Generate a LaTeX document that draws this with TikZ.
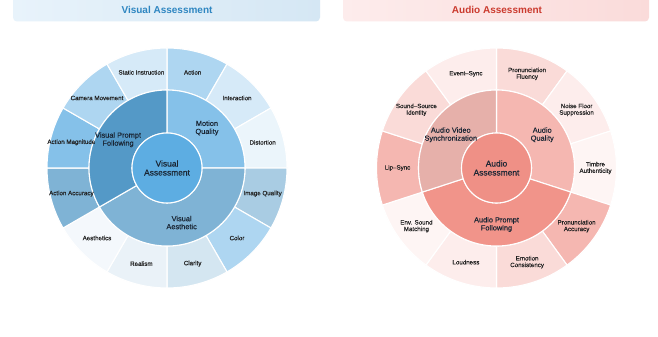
\documentclass[tikz,border=0pt]{standalone}
\usepackage{fontspec}
\setmainfont{Liberation Sans}
\newfontfamily\medfont[FakeBold=0.35,Ligatures=TeX]{Liberation Sans}
\usetikzlibrary{calc}
% visual colours
\definecolor{vCenter}{HTML}{5DADE2}
\definecolor{vMotion}{HTML}{85C1E9}
\definecolor{vAesth}{HTML}{7FB3D5}
\definecolor{vPrompt}{HTML}{5499C7}
\definecolor{vAction}{HTML}{AED6F1}
\definecolor{vInter}{HTML}{D6EAF8}
\definecolor{vDist}{HTML}{EBF5FB}
\definecolor{vImgQ}{HTML}{A9CCE3}
\definecolor{vColor}{HTML}{AED6F1}
\definecolor{vClar}{HTML}{D4E6F1}
\definecolor{vReal}{HTML}{EAF2F8}
\definecolor{vAes}{HTML}{F4F8FC}
\definecolor{vAcc}{HTML}{7FB3D5}
\definecolor{vMag}{HTML}{85C1E9}
\definecolor{vCam}{HTML}{AED6F1}
\definecolor{vStat}{HTML}{D6EAF8}
% audio colours
\definecolor{aCenter}{HTML}{EF9086}
\definecolor{aQual}{HTML}{F5B7B1}
\definecolor{aPrompt}{HTML}{F1948A}
\definecolor{aSync}{HTML}{E6B0AA}
\definecolor{aL1}{HTML}{F5B7B1}
\definecolor{aL2}{HTML}{FADBD8}
\definecolor{aL3}{HTML}{FDEDEC}
\definecolor{aL4}{HTML}{FEF5F4}
% text / banners
\definecolor{labtxt}{HTML}{222222}
\definecolor{midtxt}{HTML}{1A2634}
\definecolor{vTitle}{HTML}{2E86C1}
\definecolor{aTitle}{HTML}{CB3A2E}
\definecolor{vBanL}{HTML}{E8F3FB}
\definecolor{vBanR}{HTML}{D5E7F4}
\definecolor{aBanL}{HTML}{FDECEC}
\definecolor{aBanR}{HTML}{FADBDA}

\newcommand\sbseg[6]{%
  \fill[#6, draw=white, line width=1.1pt]
    ($(#1)+(#4:#2)$) arc[start angle=#4, end angle=#5, radius=#2]
    -- ($(#1)+(#5:#3)$) arc[start angle=#5, end angle=#4, radius=#3] -- cycle;}

\tikzset{
  olab/.style={text=labtxt, align=center, font=\medfont\fontsize{6.2}{6.6}\selectfont, inner sep=0pt},
  mlab/.style={text=midtxt, align=center, font=\medfont\fontsize{7.4}{8}\selectfont, inner sep=0pt},
  clab/.style={text=midtxt, align=center, font=\medfont\fontsize{8.4}{9}\selectfont, inner sep=0pt},
  titlab/.style={font=\bfseries\fontsize{10}{12}\selectfont, inner sep=0pt},
}

\begin{document}
\begin{tikzpicture}[x=1pt,y=1pt]
\useasboundingbox (0,0) rectangle (658,337);
\fill[white] (0,0) rectangle (658,337);

% banners
\shade[left color=vBanL, right color=vBanR, rounded corners=4pt] (13,315.5) rectangle (320,345);
\shade[left color=aBanL, right color=aBanR, rounded corners=4pt] (343,315.5) rectangle (649,345);
\node[titlab, text=vTitle] (vtitle) at (167,327) {Visual Assessment};
\node[titlab, text=aTitle] (atitle) at (497,327) {Audio Assessment};

% ---------------- Visual -----------------
\coordinate (vc) at (167,169);
% outer ring
\sbseg{vc}{78pt}{120pt}{90}{60}{vAction}
\sbseg{vc}{78pt}{120pt}{60}{30}{vInter}
\sbseg{vc}{78pt}{120pt}{30}{0}{vDist}
\sbseg{vc}{78pt}{120pt}{0}{-30}{vImgQ}
\sbseg{vc}{78pt}{120pt}{-30}{-60}{vColor}
\sbseg{vc}{78pt}{120pt}{-60}{-90}{vClar}
\sbseg{vc}{78pt}{120pt}{-90}{-120}{vReal}
\sbseg{vc}{78pt}{120pt}{-120}{-150}{vAes}
\sbseg{vc}{78pt}{120pt}{-150}{-180}{vAcc}
\sbseg{vc}{78pt}{120pt}{180}{150}{vMag}
\sbseg{vc}{78pt}{120pt}{150}{120}{vCam}
\sbseg{vc}{78pt}{120pt}{120}{90}{vStat}
% middle ring
\sbseg{vc}{35pt}{78pt}{90}{0}{vMotion}
\sbseg{vc}{35pt}{78pt}{0}{-150}{vAesth}
\sbseg{vc}{35pt}{78pt}{210}{90}{vPrompt}
% centre
\fill[vCenter, draw=white, line width=1.1pt] (vc) circle[radius=35pt];

\node[olab] (v1) at ($(vc)+(75:99pt)$) {Action};
\node[olab] (v2) at ($(vc)+(45:99pt)$) {Interaction};
\node[olab] (v3) at ($(vc)+(15:99pt)$) {Distortion};
\node[olab] (v4) at ($(vc)+(-15:99pt)$) {Image Quality};
\node[olab] (v5) at ($(vc)+(-45:99pt)$) {Color};
\node[olab] (v6) at ($(vc)+(-75:99pt)$) {Clarity};
\node[olab] (v7) at ($(vc)+(-105:99pt)$) {Realism};
\node[olab] (v8) at ($(vc)+(-135:99pt)$) {Aesthetics};
\node[olab] (v9) at ($(vc)+(-165:99pt)$) {Action Accuracy};
\node[olab] (v10) at ($(vc)+(165:99pt)$) {Action Magnitude};
\node[olab] (v11) at ($(vc)+(135:99pt)$) {Camera Movement};
\node[olab] (v12) at ($(vc)+(105:99pt)$) {Static Instruction};

\node[mlab] (vm1) at ($(vc)+(45:56.5pt)$) {Motion\\Quality};
\node[mlab] (vm2) at ($(vc)+(-75:56.5pt)$) {Visual\\Aesthetic};
\node[mlab] (vm3) at ($(vc)+(150:56.5pt)$) {Visual Prompt\\Following};
\node[clab] (vcl) at (vc) {Visual\\Assessment};

% ---------------- Audio -----------------
\coordinate (ac) at (496.5,169);
\sbseg{ac}{78pt}{120pt}{90}{54}{aL2}
\sbseg{ac}{78pt}{120pt}{54}{18}{aL3}
\sbseg{ac}{78pt}{120pt}{18}{-18}{aL4}
\sbseg{ac}{78pt}{120pt}{-18}{-54}{aL1}
\sbseg{ac}{78pt}{120pt}{-54}{-90}{aL2}
\sbseg{ac}{78pt}{120pt}{-90}{-126}{aL3}
\sbseg{ac}{78pt}{120pt}{-126}{-162}{aL4}
\sbseg{ac}{78pt}{120pt}{198}{162}{aL1}
\sbseg{ac}{78pt}{120pt}{162}{126}{aL2}
\sbseg{ac}{78pt}{120pt}{126}{90}{aL3}
\sbseg{ac}{35pt}{78pt}{90}{-18}{aQual}
\sbseg{ac}{35pt}{78pt}{-18}{-162}{aPrompt}
\sbseg{ac}{35pt}{78pt}{198}{90}{aSync}
\fill[aCenter, draw=white, line width=1.1pt] (ac) circle[radius=35pt];

\node[olab] (a1) at ($(ac)+(72:99pt)$) {Pronunciation\\Fluency};
\node[olab] (a2) at ($(ac)+(36:99pt)$) {Noise Floor\\Suppression};
\node[olab] (a3) at ($(ac)+(0:99pt)$) {Timbre\\Authenticity};
\node[olab] (a4) at ($(ac)+(-36:99pt)$) {Pronunciation\\Accuracy};
\node[olab] (a5) at ($(ac)+(-72:99pt)$) {Emotion\\Consistency};
\node[olab] (a6) at ($(ac)+(-108:99pt)$) {Loudness};
\node[olab] (a7) at ($(ac)+(-144:99pt)$) {Env. Sound\\Matching};
\node[olab] (a8) at ($(ac)+(180:99pt)$) {Lip–Sync};
\node[olab] (a9) at ($(ac)+(144:99pt)$) {Sound–Source\\Identity};
\node[olab] (a10) at ($(ac)+(108:99pt)$) {Event–Sync};

\node[mlab] (am1) at ($(ac)+(36:56.5pt)$) {Audio\\Quality};
\node[mlab] (am2) at ($(ac)+(-90:56.5pt)$) {Audio Prompt\\Following};
\node[mlab] (am3) at ($(ac)+(144:56.5pt)$) {Audio Video\\Synchronization};
\node[clab] (acl) at (ac) {Audio\\Assessment};
\end{tikzpicture}
\end{document}
